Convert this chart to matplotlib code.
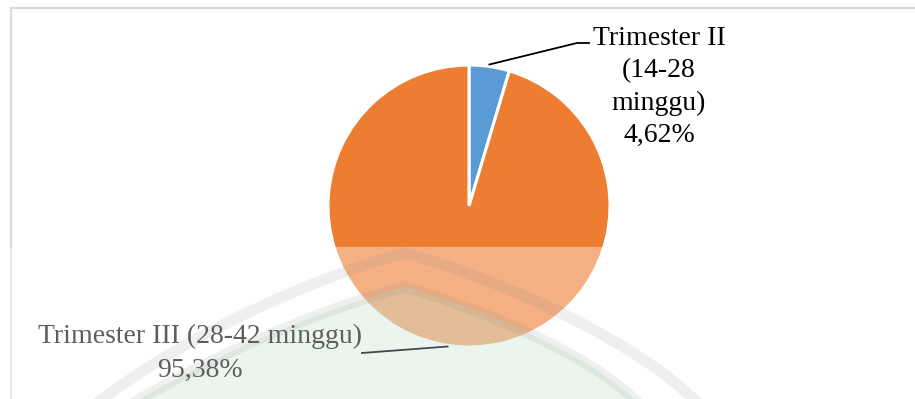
import numpy as np
import matplotlib
matplotlib.use("Agg")
import matplotlib.pyplot as plt
from matplotlib.patches import Rectangle, PathPatch
from matplotlib.path import Path
from matplotlib.lines import Line2D

categories = ["Trimester II (14-28 minggu)", "Trimester III (28-42 minggu)"]
label_lines = [["Trimester II", "(14-28", "minggu)"], ["Trimester III (28-42 minggu)"]]
values = [4.62, 95.38]
colors = ["#5B9BD5", "#ED7D31"]

W, H = 915, 399
fig = plt.figure(figsize=(W / 100, H / 100), dpi=100)
fig.patch.set_facecolor("white")

def fx(x):
    return x / W

def fy(y):
    return 1 - y / H

def P(x, y):
    return (fx(x), fy(y))

# pie axes (center ~ (469,206), radius ~141 px)
cx, cy, r = 469, 206, 141
ax = fig.add_axes([fx(cx - r), fy(cy + r), 2 * r / W, 2 * r / H])
wedges, _ = ax.pie(values, colors=colors, startangle=90, counterclock=False,
                   radius=1, wedgeprops=dict(edgecolor="white", linewidth=2.2))
ax.set_xlim(-1, 1)
ax.set_ylim(-1, 1)
ax.axis("off")

# chart border (light grey)
fig.add_artist(Rectangle((fx(11), fy(H + 5)), fx(W + 30), (H - 8 + 5) / H,
                         transform=fig.transFigure, fill=False,
                         edgecolor="#d9d9d9", linewidth=1.5, zorder=0.5))

# scanned page watermark (decoration of the source scan)
fig.add_artist(Rectangle((0, 0), 1, fy(247), transform=fig.transFigure,
                         facecolor="white", edgecolor="none", alpha=0.4, zorder=1.1))

def dome(left, apex, right, cl1, cl2, cr1, cr2):
    verts = [P(*left), P(*cl1), P(*cl2), P(*apex), P(*cr1), P(*cr2), P(*right)]
    codes = [Path.MOVETO] + [Path.CURVE4] * 6
    return verts, codes

ov, oc = dome((95, 405), (405, 253), (700, 405), (190, 330), (330, 272), (475, 272), (625, 330))
iv, ic = dome((130, 405), (405, 287), (640, 405), (230, 345), (345, 302), (470, 305), (590, 352))

fig.add_artist(PathPatch(Path(iv + [P(130, 405)], ic + [Path.CLOSEPOLY]),
                         transform=fig.transFigure, facecolor="#b9dec6",
                         edgecolor="none", alpha=0.3, zorder=1.15))
for v, c in ((ov, oc), (iv, ic)):
    fig.add_artist(PathPatch(Path(v, c), transform=fig.transFigure, fill=False,
                             edgecolor="#8a8a8a", alpha=0.13, linewidth=8,
                             capstyle="butt", joinstyle="round", zorder=1.2))

# label leader lines computed from wedge mid angles
angles = []
start = 90.0
total = sum(values)
for val in values:
    sweep = 360.0 * val / total
    angles.append(np.deg2rad(start - sweep / 2))
    start -= sweep

def edge_px(a):
    return cx + r * np.cos(a), cy - r * np.sin(a)

font = "Liberation Serif"
pct = [f"{val:.2f}".replace(".", ",") + "%" for val in values]

# top label
ex, ey = edge_px(angles[0])
fig.add_artist(Line2D([fx(ex), fx(577), fx(589)], [fy(ey - 2), fy(43), fy(43)],
                      transform=fig.transFigure, color="black", linewidth=1.3, zorder=3))
lines0 = label_lines[0] + [pct[0]]
for i, t in enumerate(lines0):
    fig.text(fx(659), fy(45 + i * 32.3), t, ha="center", va="baseline",
             fontsize=20, family=font, color="black", zorder=4)

# bottom label
ex, ey = edge_px(angles[1])
fig.add_artist(Line2D([fx(ex - 1), fx(362)], [fy(ey + 1), fy(353)],
                      transform=fig.transFigure, color="#3f4a4a", linewidth=1.3, zorder=3))
lines1 = label_lines[1] + [pct[1]]
for i, t in enumerate(lines1):
    fig.text(fx(200), fy(343 + i * 34), t, ha="center", va="baseline",
             fontsize=20, family=font, color="#5e5e5e", zorder=4)

fig.savefig("out.png", dpi=100)
